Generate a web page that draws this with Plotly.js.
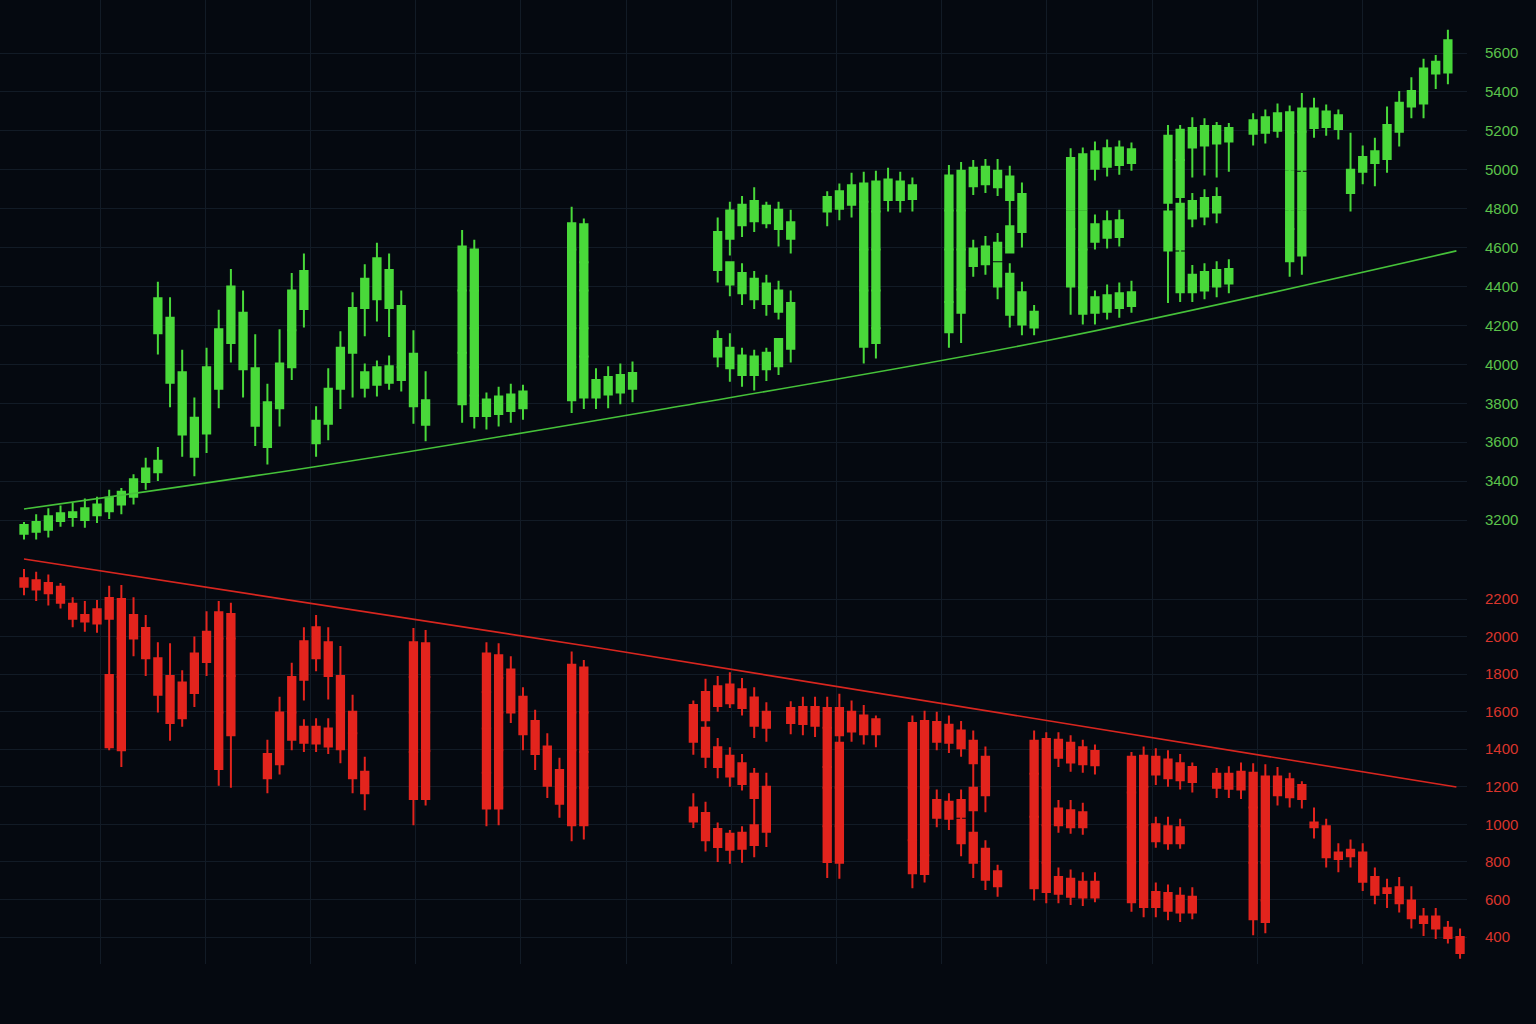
<!DOCTYPE html>
<html>
<head>
<meta charset="utf-8">
<script src="https://cdn.plot.ly/plotly-3.0.1.min.js"></script>
<style>
html,body{margin:0;padding:0;background:#050910;}
#chart{width:1536px;height:1024px;}
</style>
</head>
<body>
<div id="chart"></div>
<script>
// Rows: [session, open, high, low, close]
// ---------- WALL STREET (upper scale) ----------
const wallIntro = [
[0,3130,3190,3100,3175],[1,3140,3230,3100,3190],[2,3150,3260,3110,3220],[3,3195,3275,3165,3235],
[4,3215,3290,3165,3240],[5,3200,3310,3160,3260],[6,3225,3320,3185,3280],[7,3245,3355,3205,3315],
[8,3280,3365,3230,3345],[9,3320,3435,3280,3410],[10,3395,3520,3355,3465],[11,3445,3575,3400,3505]
];
const wallW = [
[11,4160,4425,4050,4340],[12,3905,4345,3780,4240],[13,3640,4075,3525,3960],[14,3525,3830,3425,3725],
[15,3645,4085,3545,3985],[16,3875,4280,3775,4180],[17,4110,4490,4010,4400],[18,3975,4380,3830,4265],
[19,3685,4155,3580,3980],[20,3575,3900,3485,3805],[21,3775,4180,3680,4005],[22,4175,4470,4175,4380],
[22,3985,4175,3920,4175],[23,4285,4570,4190,4480]
];
const wallA = [
[24,3595,3785,3525,3710],[25,3695,3980,3610,3875],[26,3875,4170,3770,4085],[27,4060,4370,3830,4290],
[28,4290,4515,4145,4440],[28,3880,4005,3830,3960],[29,4335,4625,4220,4545],[29,3895,4020,3835,3985],
[30,4290,4570,4140,4485],[30,3905,4045,3870,3990],[31,3985,4380,3985,4300],[31,3920,3985,3860,3985],
[32,3785,4175,3695,4055],[33,3690,3965,3605,3815]
];
const wallL1 = [
[36,4380,4690,4380,4605],[36,4060,4380,4060,4380],[36,3795,4060,3700,4060],
[37,4380,4640,4380,4590],[37,4185,4380,4185,4380],[37,3985,4185,3985,4185],[37,3840,3985,3840,3985],
[37,3735,3840,3670,3840],[38,3735,3855,3665,3820],[39,3745,3885,3680,3835],[40,3760,3900,3700,3845],
[41,3775,3895,3715,3860]
];
const wallL2 = [
[45,4590,4810,4590,4725],[45,4185,4590,4185,4590],[45,3985,4185,3985,4185],[45,3815,3985,3750,3985],
[46,4525,4750,4525,4720],[46,4380,4525,4380,4525],[46,4185,4380,4185,4380],[46,4040,4185,4040,4185],
[46,3830,4040,3770,4040],[47,3830,3980,3770,3920],[48,3845,3990,3775,3935],[49,3855,4005,3795,3945],
[50,3875,4015,3805,3955]
];
const wallS = [
[57,4485,4755,4420,4680],[57,4040,4175,3985,4130],
[58,4645,4835,4560,4790],[58,4410,4525,4350,4525],[58,3980,4160,3910,4085],
[59,4715,4865,4655,4820],[59,4365,4520,4305,4470],[59,3945,4085,3885,4045],
[60,4735,4910,4680,4840],[60,4335,4480,4285,4440],[60,3945,4075,3865,4040],
[61,4725,4835,4700,4815],[61,4310,4460,4250,4415],[61,3975,4085,3915,4060],
[62,4695,4835,4605,4795],[62,4270,4430,4230,4380],[62,3990,4130,3945,4130],
[63,4645,4795,4570,4730],[63,4080,4380,4010,4315]
];
const wallT1 = [
[66,4785,4890,4710,4860],[67,4800,4930,4740,4890],[68,4820,4985,4755,4920],
[69,4835,4990,4835,4930],[69,4590,4835,4590,4835],[69,4380,4590,4380,4590],[69,4090,4380,4005,4380],
[70,4785,4995,4785,4940],[70,4590,4785,4590,4785],[70,4380,4590,4380,4590],[70,4185,4380,4185,4380],
[70,4110,4185,4030,4185],[71,4845,5010,4785,4950],[72,4845,4990,4780,4940],[73,4850,4960,4785,4920]
];
const wallR = [
[76,4790,5025,4790,4970],[76,4590,4790,4590,4790],[76,4320,4590,4320,4590],[76,4165,4320,4085,4320],
[77,4790,5040,4790,4995],[77,4590,4790,4590,4790],[77,4385,4590,4385,4590],[77,4265,4385,4110,4385],
[78,4915,5050,4870,5010],[78,4505,4640,4450,4595],[79,4925,5055,4880,5015],[79,4515,4660,4460,4605],
[80,4910,5055,4865,4995],[80,4535,4675,4535,4625],[80,4400,4520,4335,4520],
[81,4845,5020,4845,4965],[81,4575,4845,4575,4710],[81,4255,4520,4190,4465],
[82,4680,4935,4600,4875],[82,4205,4425,4150,4370],[83,4190,4305,4150,4270]
];
const wallE1 = [
[86,4795,5110,4795,5060],[86,4695,4785,4695,4785],[86,4400,4695,4255,4695],
[87,4795,5115,4795,5080],[87,4590,4785,4590,4785],[87,4395,4590,4395,4590],[87,4260,4395,4205,4395],
[88,5005,5145,4945,5095],[88,4630,4770,4590,4720],[88,4265,4380,4205,4345],
[89,5015,5155,4965,5110],[89,4650,4790,4595,4735],[89,4270,4410,4230,4355],
[90,5025,5150,4975,5115],[90,4655,4795,4605,4740],[90,4290,4420,4240,4365],
[91,5035,5140,4995,5105],[91,4300,4430,4265,4370]
];
const wallE2 = [
[94,4830,5230,4830,5175],[94,4585,4830,4315,4785],
[95,5050,5230,5050,5205],[95,4860,5050,4860,5050],[95,4590,4860,4590,4825],[95,4370,4590,4320,4575],
[96,5115,5270,4960,5215],[96,4750,4880,4705,4840],[96,4370,4510,4320,4460],
[97,5125,5265,4970,5225],[97,4760,4900,4715,4855],[97,4380,4520,4335,4475],
[98,5135,5245,4960,5225],[98,4780,4910,4725,4860],[98,4400,4530,4345,4485],
[99,5145,5240,4990,5215],[99,4415,4540,4365,4490]
];
const wallT2 = [
[101,5185,5290,5125,5255],[102,5190,5310,5135,5270],[103,5200,5340,5165,5290],
[104,5190,5330,5190,5295],[104,5000,5190,5000,5190],[104,4795,5000,4795,4990],[104,4695,4795,4695,4785],
[104,4530,4695,4450,4695],
[105,5195,5395,5195,5315],[105,5000,5195,5000,5195],[105,4795,5000,4795,4985],[105,4560,4795,4460,4785],
[106,5215,5370,5165,5315],[107,5220,5335,5175,5300],[108,5210,5310,5155,5280]
];
const wallTail = [
[109,4880,5190,4785,5000],[110,4990,5125,4925,5065],[111,5035,5165,4915,5095],[112,5055,5325,4985,5230],
[113,5195,5405,5120,5345],[114,5325,5475,5265,5405],[115,5340,5570,5265,5520],[116,5495,5590,5415,5555],
[117,5500,5720,5440,5665]
];
// ---------- MAIN STREET (lower scale) ----------
const mainIntro = [
[0,2310,2360,2220,2265],[1,2300,2345,2190,2250],[2,2285,2330,2165,2230],[3,2265,2285,2150,2180],
[4,2175,2210,2050,2095],[5,2115,2190,2025,2080],[6,2145,2195,2020,2070]
];
const mainM = [
[7,2205,2270,1795,2095],[7,1795,1795,1395,1410],
[8,2200,2275,1990,1990],[8,1990,1990,1785,1785],[8,1785,1785,1595,1595],[8,1595,1595,1305,1395],
[9,2115,2210,1895,1990],[10,2045,2115,1790,1885],[11,1885,1970,1595,1690],[12,1790,1965,1445,1540],
[13,1755,1820,1520,1565],[14,1910,2000,1625,1700],[15,2025,2135,1790,1865],
[16,2130,2190,1990,1990],[16,1990,1990,1790,1790],[16,1790,1790,1595,1595],[16,1595,1595,1205,1295],
[17,2120,2180,1990,1990],[17,1990,1990,1790,1790],[17,1790,1790,1195,1475]
];
const mainA = [
[20,1375,1450,1165,1245],[21,1595,1680,1265,1320],[22,1785,1860,1595,1595],[22,1595,1595,1395,1450],
[23,1975,2050,1660,1770],[23,1520,1560,1385,1435],[24,2050,2115,1815,1885],[24,1520,1565,1385,1430],
[25,1970,2050,1665,1790],[25,1510,1565,1375,1415],[26,1790,1950,1595,1595],[26,1595,1595,1325,1400],
[27,1600,1690,1485,1485],[27,1485,1485,1165,1245],[28,1280,1360,1075,1165]
];
const mainI = [
[32,1970,2045,1785,1785],[32,1785,1785,1595,1595],[32,1595,1595,1385,1385],[32,1385,1385,995,1135],
[33,1965,2035,1785,1785],[33,1785,1785,1595,1595],[33,1595,1595,1390,1390],[33,1390,1390,1100,1135]
];
const mainN = [
[38,1910,1970,1705,1705],[38,1705,1705,1510,1510],[38,1510,1510,1275,1275],[38,1275,1275,990,1085],
[39,1900,1965,1780,1780],[39,1780,1780,1595,1595],[39,1595,1595,1395,1395],[39,1395,1395,1195,1195],
[39,1195,1195,995,1085],
[40,1825,1895,1540,1595],[41,1680,1730,1395,1480],[42,1550,1610,1290,1375],[43,1415,1485,1140,1205],
[44,1290,1355,1035,1110],
[45,1850,1920,1595,1595],[45,1595,1595,1395,1395],[45,1395,1395,1195,1195],[45,1195,1195,910,995],
[46,1835,1875,1595,1595],[46,1595,1595,1385,1385],[46,1385,1385,1195,1195],[46,1195,1195,920,995]
];
const mainS = [
[55,1635,1660,1370,1440],[55,1090,1165,980,1015],
[56,1705,1775,1555,1555],[56,1515,1555,1300,1360],[56,1060,1120,855,915],
[57,1735,1790,1600,1630],[57,1410,1460,1245,1305],[57,975,1010,800,880],
[58,1745,1810,1620,1645],[58,1365,1410,1200,1255],[58,950,970,790,865],
[59,1720,1780,1580,1620],[59,1325,1375,1180,1215],[59,955,990,795,870],
[60,1675,1730,1460,1525],[60,1270,1300,1140,1140],[60,995,1140,825,890],
[61,1600,1650,1440,1515],[61,1200,1275,880,960]
];
const mainT1 = [
[63,1620,1655,1480,1540],[64,1625,1680,1475,1535],[65,1625,1680,1465,1525],
[66,1620,1680,1515,1515],[66,1515,1515,1305,1305],[66,1305,1305,1195,1195],[66,1195,1195,990,990],
[66,990,990,715,800],
[67,1620,1695,1475,1475],[67,1435,1475,1195,1195],[67,1195,1195,990,990],[67,990,990,710,795],
[68,1600,1660,1440,1495],[69,1580,1635,1425,1480],[70,1560,1580,1410,1480]
];
const mainR = [
[73,1540,1580,1195,1195],[73,1195,1195,915,915],[73,915,915,660,740],
[74,1550,1605,1195,1195],[74,1195,1195,835,835],[74,835,835,690,735],
[75,1545,1600,1395,1440],[75,1130,1185,985,1035],[76,1530,1580,1380,1435],[76,1120,1165,970,1030],
[77,1500,1550,1360,1405],[77,1130,1185,1040,1040],[77,1025,1040,830,900],
[78,1445,1500,1325,1325],[78,1195,1325,1075,1075],[78,955,1075,715,795],
[79,1360,1415,1065,1155],[79,870,915,650,705],[80,750,785,615,670]
];
const mainE1 = [
[83,1445,1500,1270,1270],[83,1270,1270,1040,1040],[83,1040,1040,820,820],[83,810,820,595,660],
[84,1455,1490,1195,1195],[84,1195,1195,995,995],[84,995,995,795,795],[84,795,795,580,640],
[85,1450,1490,1305,1355],[85,1085,1130,955,995],[85,720,770,580,630],
[86,1435,1475,1280,1330],[86,1075,1130,950,985],[86,710,760,570,615],
[87,1410,1450,1275,1320],[87,1065,1115,945,985],[87,695,745,565,610],
[88,1390,1425,1265,1315],[88,695,745,585,610]
];
const mainE2 = [
[91,1360,1385,1170,1170],[91,1170,1170,985,985],[91,985,985,795,795],[91,795,795,535,585],
[92,1365,1415,1200,1200],[92,1200,1200,995,995],[92,995,995,795,795],[92,795,795,505,560],
[93,1360,1405,1210,1265],[93,1000,1040,875,910],[93,640,690,505,560],
[94,1345,1395,1200,1245],[94,990,1040,865,900],[94,635,680,490,540],
[95,1325,1375,1185,1235],[95,985,1030,870,900],[95,620,665,480,530],
[96,1305,1330,1170,1225],[96,615,665,495,530]
];
const mainT2 = [
[98,1270,1300,1140,1195],[99,1270,1310,1140,1190],[100,1280,1330,1135,1185],
[101,1275,1325,1090,1090],[101,1090,1090,990,990],[101,990,990,795,795],[101,795,795,410,495],
[102,1255,1320,990,990],[102,990,990,795,795],[102,795,795,595,595],[102,595,595,420,480],
[103,1255,1305,1100,1155],[104,1240,1275,1090,1145],[105,1210,1230,1085,1135]
];
const mainTail = [
[106,1010,1090,925,985],[107,990,1030,770,825],[108,850,900,745,815],[109,865,920,770,830],
[110,850,900,645,695],[111,720,770,575,625],[112,660,710,555,635],[113,665,720,530,580],
[114,595,670,445,500],[115,510,555,405,475],[116,510,555,390,445],[117,450,485,365,395],
[118,400,445,285,315]
];
// Trend lines
const wallTrendX = [0, 24.3, 52.3, 84.3, 117.7];
const wallTrendY = [3257, 3478, 3768, 4125, 4583];
const mainTrendX = [0, 47.3, 117.7];
const mainTrendY = [2413, 1939, 1199];
// Tick labels
const wallTicks = [3200,3400,3600,3800,4000,4200,4400,4600,4800,5000,5200,5400,5600];
const mainTicks = [400,600,800,1000,1200,1400,1600,1800,2000,2200];

const GREEN = '#49d93a', RED = '#e3241d';
const GRID = '#121b26', BG = '#050910';

function cols(rows){
  return {x:rows.map(r=>r[0]), open:rows.map(r=>r[1]), high:rows.map(r=>r[2]),
          low:rows.map(r=>r[3]), close:rows.map(r=>r[4])};
}
const wall = cols([].concat(wallIntro, wallW, wallA, wallL1, wallL2, wallS, wallT1, wallR, wallE1, wallE2, wallT2, wallTail));
const main = cols([].concat(mainIntro, mainM, mainA, mainI, mainN, mainS, mainT1, mainR, mainE1, mainE2, mainT2, mainTail));

function candle(d, color, yaxis){
  return Object.assign({type:'candlestick', xaxis:'x', yaxis:yaxis, whiskerwidth:0, hoverinfo:'none', showlegend:false,
    increasing:{line:{color:color, width:2}, fillcolor:color},
    decreasing:{line:{color:color, width:2}, fillcolor:color}}, d);
}

const traces = [
  {type:'scatter', mode:'lines', x:wallTrendX, y:wallTrendY, xaxis:'x', yaxis:'y', line:{color:'#46c23a', width:1.6, shape:'spline', smoothing:1}, hoverinfo:'none', showlegend:false},
  candle(wall, GREEN, 'y'),
  {type:'scatter', mode:'lines', x:mainTrendX, y:mainTrendY, xaxis:'x', yaxis:'y2', line:{color:'#d8261f', width:1.6}, hoverinfo:'none', showlegend:false},
  candle(main, RED, 'y2')
];

const tickFont = {family:'Liberation Sans, Arial, sans-serif', size:15};
const layout = {
  width:1536, height:1024,
  margin:{l:0, r:69, t:0, b:60},
  paper_bgcolor:BG, plot_bgcolor:BG,
  showlegend:false, hovermode:false,
  boxgap:0.4, boxgroupgap:0,
  xaxis:{range:[-1.972,118.57], showgrid:true, gridcolor:GRID, gridwidth:1, tick0:6.245, dtick:8.645,
         showticklabels:false, ticks:'', zeroline:false, showline:false, rangeslider:{visible:false}, fixedrange:true},
  yaxis:{range:[918.4,5872.4], side:'right', tickmode:'array', tickvals:wallTicks, ticktext:wallTicks.map(String),
         tickfont:Object.assign({color:'#5cc24b'}, tickFont), showgrid:true, gridcolor:GRID, zeroline:false,
         showline:false, ticks:'', ticklabelstandoff:17, fixedrange:true},
  yaxis2:{range:[256.4,5389.7], overlaying:'y', side:'right', tickmode:'array', tickvals:mainTicks, ticktext:mainTicks.map(String),
         tickfont:Object.assign({color:'#da352c'}, tickFont), showgrid:true, gridcolor:GRID, zeroline:false,
         showline:false, ticks:'', ticklabelstandoff:17, fixedrange:true}
};
Plotly.newPlot('chart', traces, layout, {staticPlot:true, displayModeBar:false});
</script>
</body>
</html>
